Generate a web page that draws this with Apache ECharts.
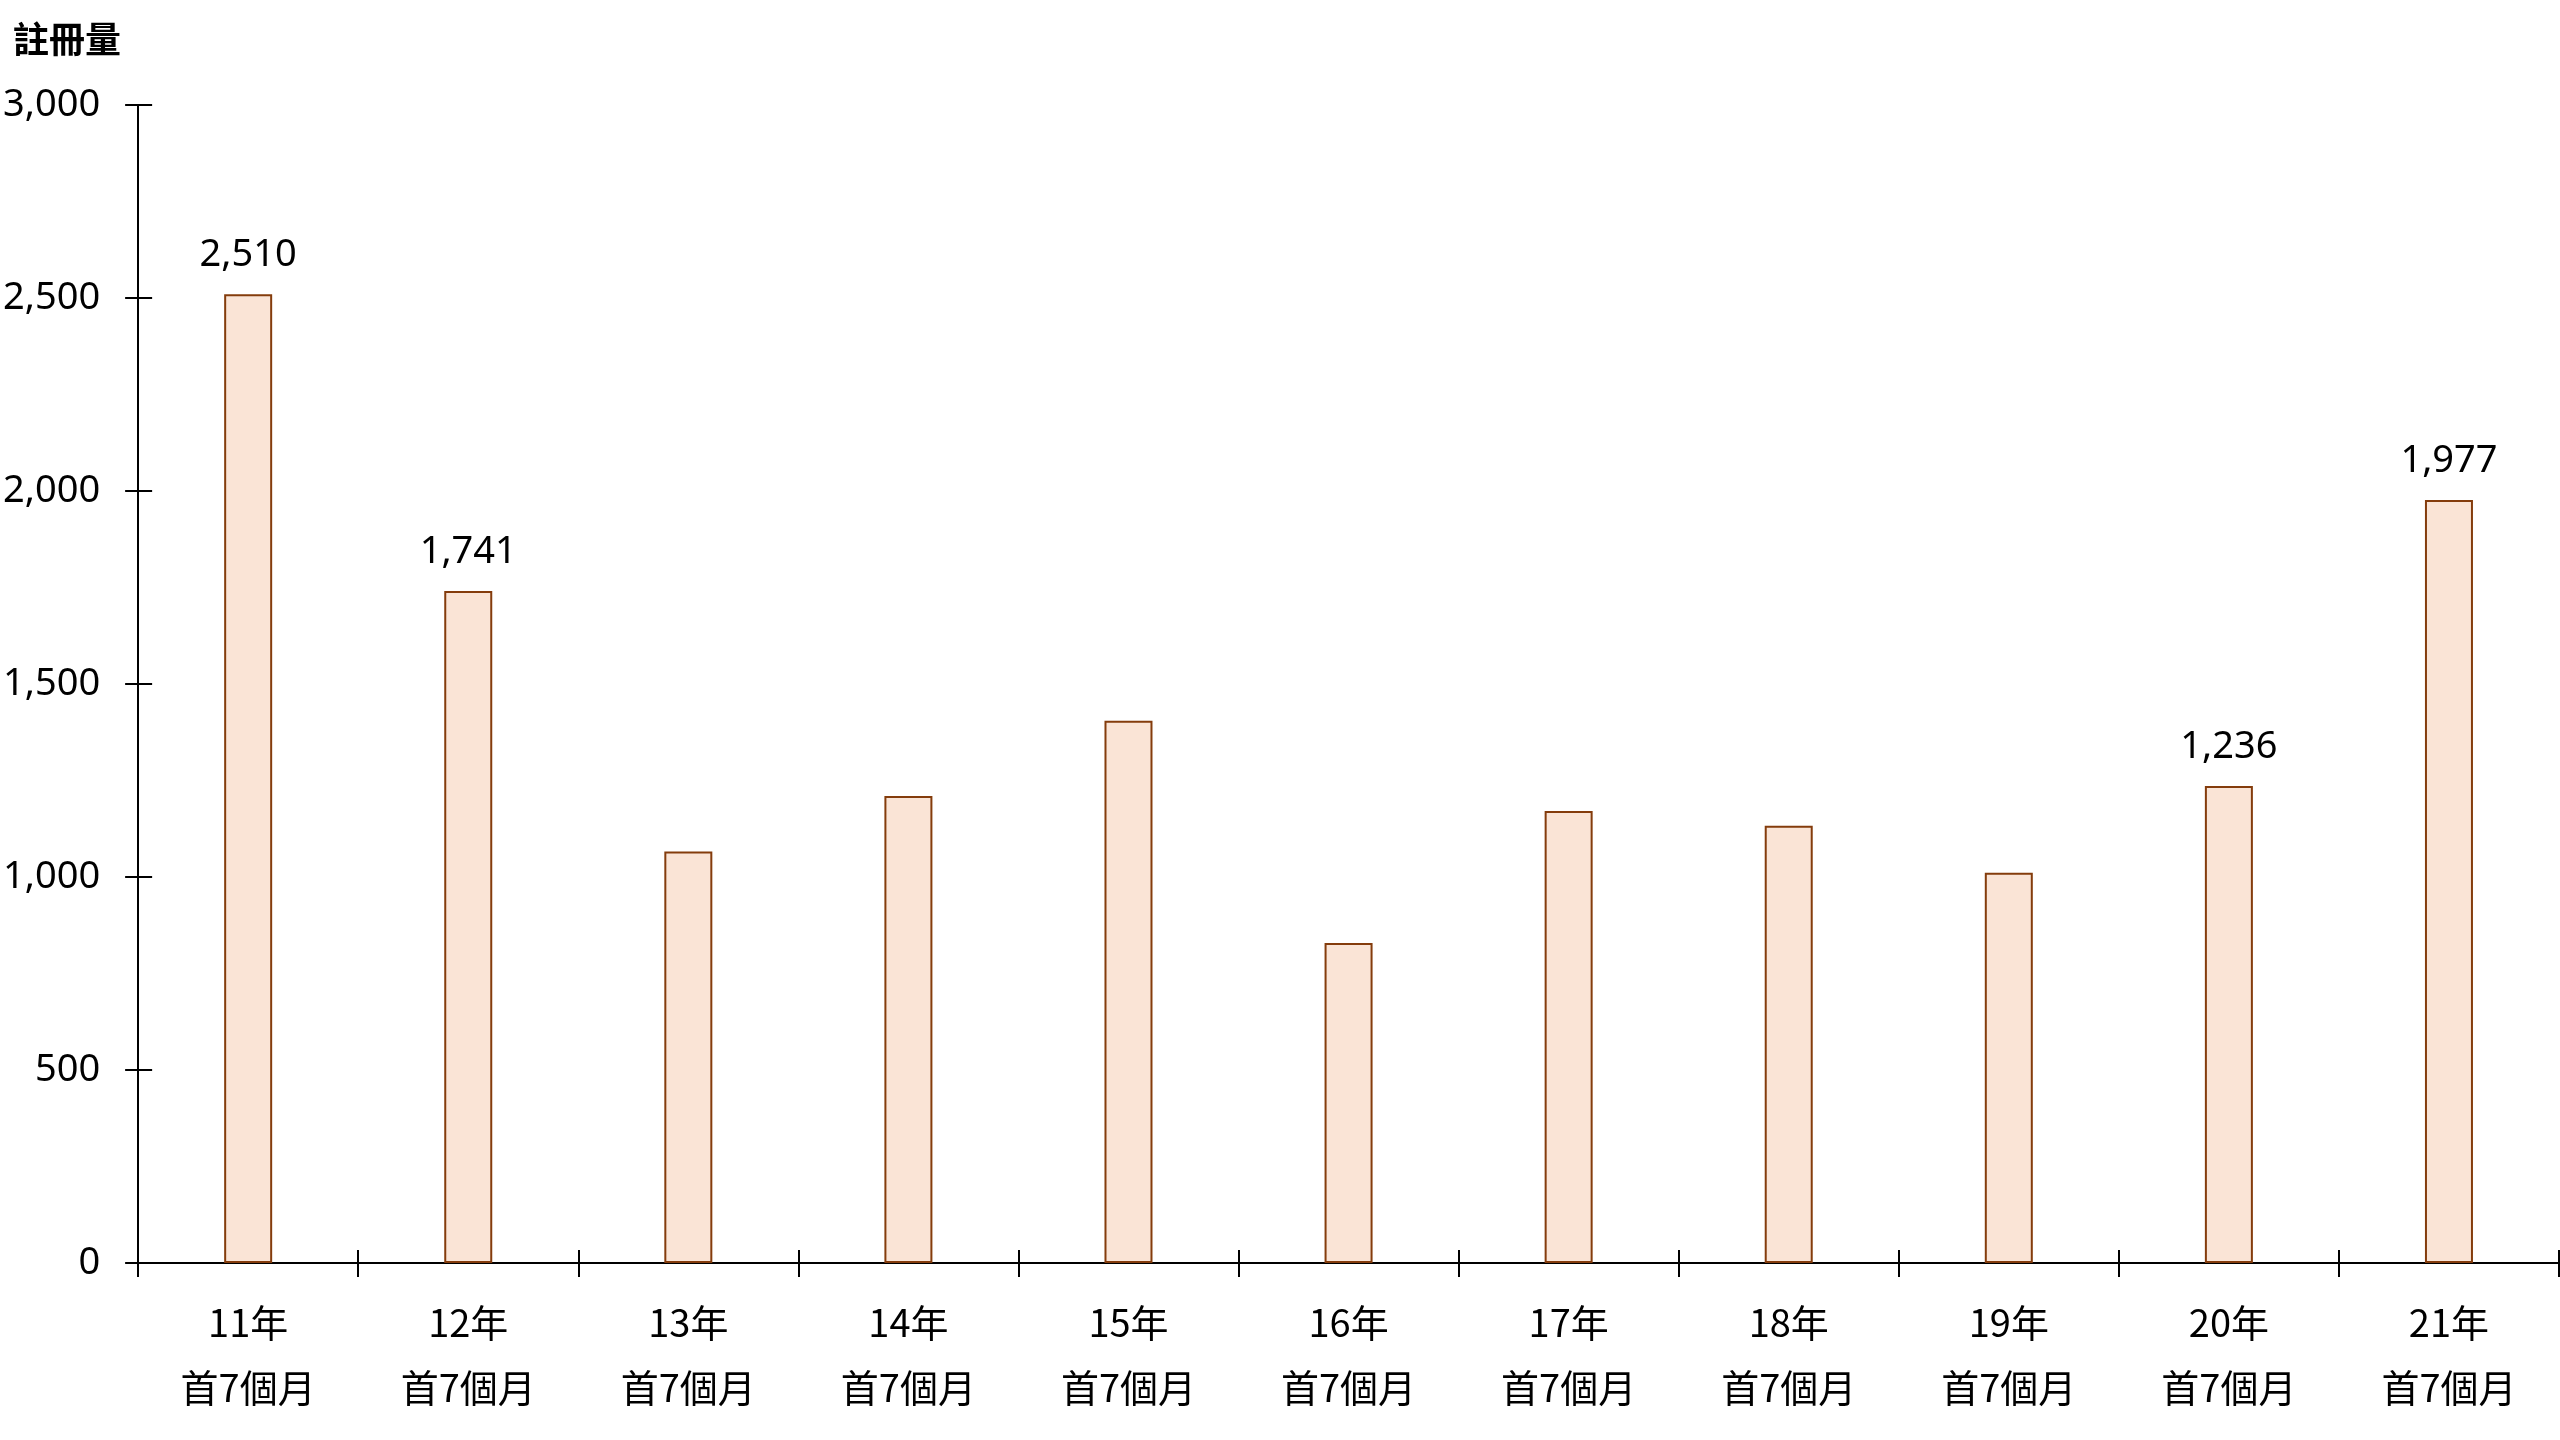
<!DOCTYPE html>
<html>
<head>
<meta charset="utf-8">
<title>註冊量</title>
<script src="https://cdn.jsdelivr.net/npm/echarts@6/dist/echarts.min.js"></script>
<style>
  html, body { margin: 0; padding: 0; background: #fff; }
  #box { width: 2560px; height: 1440px; }
</style>
</head>
<body>
<div id="box"></div>
<script>
// 類別與數值
const years = ['11年', '12年', '13年', '14年', '15年', '16年', '17年', '18年', '19年', '20年', '21年'];
const period = '首7個月';
const counts = [2510, 1741, 1066, 1210, 1405, 829, 1171, 1133, 1011, 1236, 1977];
// 只有這幾年顯示數值
const labeledYears = ['11年', '12年', '20年', '21年'];
const yTicks = [0, 500, 1000, 1500, 2000, 2500, 3000];

const font = '"Noto Sans", "Noto Sans CJK TC", sans-serif';
const cjkFont = '"Noto Sans CJK TC", "Noto Sans", sans-serif';

const chart = echarts.init(document.getElementById('box'));

const yBase = {
  type: 'value',
  min: yTicks[0],
  max: yTicks[yTicks.length - 1],
  interval: yTicks[1] - yTicks[0],
  splitLine: { show: false },
  axisLine: { show: true, lineStyle: { color: '#000', width: 2 } }
};

const option = {
  animation: false,
  backgroundColor: '#fff',
  title: {
    text: '註冊量',
    left: 8,
    top: 16,
    textStyle: { fontFamily: cjkFont, fontSize: 36, fontWeight: 'bold', color: '#000' }
  },
  grid: { left: 137, right: 1, top: 105, bottom: 177 },
  xAxis: [
    {
      type: 'category',
      position: 'bottom',
      data: years,
      axisLine: { lineStyle: { color: '#000', width: 2 } },
      axisTick: { show: true, length: 14, lineStyle: { color: '#000', width: 2 } },
      axisLabel: {
        margin: 27,
        interval: 0,
        color: '#000',
        fontFamily: cjkFont,
        fontSize: 38,
        lineHeight: 65,
        formatter: v => v + '\n' + period
      }
    },
    {
      // 內側刻度，做出十字刻度效果
      type: 'category',
      position: 'bottom',
      data: years,
      axisLine: { show: false },
      axisTick: { show: true, inside: true, length: 13, lineStyle: { color: '#000', width: 2 } },
      axisLabel: { show: false }
    }
  ],
  yAxis: [
    Object.assign({}, yBase, {
      axisTick: { show: true, length: 13, lineStyle: { color: '#000', width: 2 } },
      axisLabel: {
        margin: 38,
        color: '#000',
        fontFamily: font,
        fontSize: 38,
        formatter: v => v.toLocaleString('en-US')
      }
    }),
    Object.assign({}, yBase, {
      position: 'left',
      axisTick: { show: true, inside: true, length: 14, lineStyle: { color: '#000', width: 2 } },
      axisLabel: { show: false }
    })
  ],
  series: [
    {
      type: 'bar',
      xAxisIndex: 0,
      yAxisIndex: 0,
      barWidth: 48,
      itemStyle: { color: '#FAE4D6', borderColor: '#843C0C', borderWidth: 2 },
      label: {
        position: 'top',
        distance: 20,
        color: '#000',
        fontFamily: font,
        fontSize: 38,
        formatter: p => p.value.toLocaleString('en-US')
      },
      data: counts.map((v, i) => ({
        value: v,
        label: { show: labeledYears.indexOf(years[i]) >= 0 }
      }))
    }
  ]
};

chart.setOption(option);
</script>
</body>
</html>
